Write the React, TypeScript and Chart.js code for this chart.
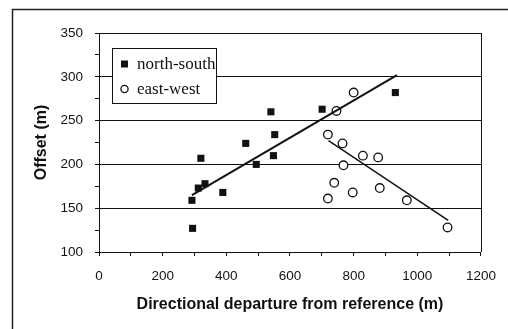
import React, { useEffect, useRef } from "react";
import { Chart, registerables } from "chart.js";

Chart.register(...registerables);

// North-south (filled squares)
const nsX = [292, 294, 312, 320, 333, 389, 461, 494, 540, 548, 552, 701, 931];
const nsY = [159, 127, 173, 207, 178, 168, 224, 200, 260, 210, 234, 263, 282];
// East-west (open circles)
const ewX = [719, 719, 739, 746, 765, 768, 797, 800, 829, 877, 882, 967, 1095];
const ewY = [234, 161, 179, 261, 224, 199, 168, 282, 210, 208, 173, 159, 128];
// Trend lines (end points)
const nsTrendX = [292, 936];
const nsTrendY = [165, 302];
const ewTrendX = [721, 1097];
const ewTrendY = [227, 136];

const seriesLabels = ["north-south", "east-west"];
const xTitle = "Directional departure from reference (m)";
const yTitle = "Offset (m)";

const zip = (xs: number[], ys: number[]) => xs.map((x, i) => ({ x, y: ys[i] }));

const INK = "#111";

const framePlugin = {
  id: "frame",
  afterDraw(chart: any) {
    const { ctx, chartArea } = chart;
    ctx.save();
    // outer frame
    ctx.strokeStyle = "#222";
    ctx.lineWidth = 1.5;
    ctx.beginPath();
    ctx.moveTo(12.5, 340);
    ctx.lineTo(12.5, 9.5);
    ctx.lineTo(520, 9.5);
    ctx.stroke();
    // right border of plot area
    ctx.strokeStyle = INK;
    ctx.lineWidth = 1;
    ctx.beginPath();
    const rx = Math.round(chartArea.right) + 0.5;
    ctx.moveTo(rx, chartArea.top);
    ctx.lineTo(rx, chartArea.bottom);
    ctx.stroke();

    // legend
    const bx = 112.5, by = 48.5, bw = 104, bh = 55;
    ctx.fillStyle = "#fff";
    ctx.fillRect(bx, by, bw, bh);
    ctx.strokeStyle = INK;
    ctx.lineWidth = 1;
    ctx.strokeRect(bx, by, bw, bh);
    const rows = [64, 89];
    ctx.font = "17px 'Liberation Serif', 'Times New Roman', serif";
    ctx.textBaseline = "middle";
    ctx.textAlign = "left";
    seriesLabels.forEach((label, i) => {
      const y = rows[i];
      const mx = 124.5;
      if (i === 0) {
        ctx.fillStyle = INK;
        ctx.fillRect(mx - 3.5, y - 3.5, 7, 7);
      } else {
        ctx.beginPath();
        ctx.arc(mx, y, 3.6, 0, Math.PI * 2);
        ctx.fillStyle = "#fff";
        ctx.fill();
        ctx.lineWidth = 1.3;
        ctx.strokeStyle = INK;
        ctx.stroke();
      }
      ctx.fillStyle = INK;
      ctx.fillText(label, 137, y + 1);
    });
    ctx.restore();
  },
};

export default function App() {
  const ref = useRef<HTMLCanvasElement | null>(null);

  useEffect(() => {
    if (!ref.current) return;
    const chart = new Chart(ref.current, {
      type: "scatter",
      data: {
        datasets: [
          {
            type: "line",
            label: "ns-trend",
            data: zip(nsTrendX, nsTrendY),
            borderColor: INK,
            borderWidth: 2,
            pointRadius: 0,
            fill: false,
            order: 0,
          } as any,
          {
            type: "line",
            label: "ew-trend",
            data: zip(ewTrendX, ewTrendY),
            borderColor: INK,
            borderWidth: 1.5,
            pointRadius: 0,
            fill: false,
            order: 0,
          } as any,
          {
            label: seriesLabels[0],
            data: zip(nsX, nsY),
            pointStyle: "rect",
            pointRadius: 5,
            backgroundColor: INK,
            borderColor: INK,
            borderWidth: 0,
            order: 1,
          },
          {
            label: seriesLabels[1],
            data: zip(ewX, ewY),
            pointStyle: "circle",
            pointRadius: 4.3,
            backgroundColor: "#fff",
            borderColor: INK,
            borderWidth: 1.3,
            order: 1,
          },
        ],
      },
      options: {
        animation: false,
        responsive: false,
        layout: { padding: { left: 0, top: 33, right: 18, bottom: 0 } },
        plugins: {
          legend: { display: false },
          tooltip: { enabled: false },
        },
        scales: {
          x: {
            type: "linear",
            min: 0,
            max: 1200,
            afterFit: (s: any) => {
              s.height = 77;
            },
            ticks: {
              stepSize: 100,
              autoSkip: false,
              maxRotation: 0,
              padding: 12,
              color: INK,
              font: { family: "'Liberation Sans', Arial, sans-serif", size: 13.5 },
              callback: (v: any) => (Number(v) % 200 === 0 ? String(v) : ""),
            },
            grid: {
              drawOnChartArea: false,
              drawTicks: true,
              tickLength: 4,
              tickColor: INK,
              color: INK,
            },
            border: { display: true, color: INK, width: 1 },
            title: {
              display: true,
              text: xTitle,
              color: INK,
              font: { family: "'Liberation Sans', Arial, sans-serif", size: 16, weight: "bold" },
              padding: { top: 0, bottom: 15 },
            },
          },
          y: {
            type: "linear",
            min: 100,
            max: 350,
            afterFit: (s: any) => {
              s.width = 99;
            },
            ticks: {
              stepSize: 25,
              autoSkip: false,
              padding: 12,
              color: INK,
              font: { family: "'Liberation Sans', Arial, sans-serif", size: 13.5 },
              callback: (v: any) => (Number(v) % 50 === 0 ? String(v) : ""),
            },
            grid: {
              drawTicks: true,
              tickLength: 4,
              tickColor: INK,
              color: (c: any) => (c.tick && c.tick.value % 50 === 0 ? INK : "rgba(0,0,0,0)"),
            },
            border: { display: true, color: INK, width: 1 },
            title: {
              display: true,
              text: yTitle,
              color: INK,
              font: { family: "'Liberation Sans', Arial, sans-serif", size: 16, weight: "bold" },
              padding: { top: 32.4, bottom: 0 },
            },
          },
        },
      },
      plugins: [framePlugin],
    });
    return () => chart.destroy();
  }, []);

  return (
    <div style={{ position: "absolute", left: 0, top: 0, width: 508, height: 329, background: "#fff" }}>
      <canvas ref={ref} width={508} height={329} style={{ display: "block" }} />
    </div>
  );
}
